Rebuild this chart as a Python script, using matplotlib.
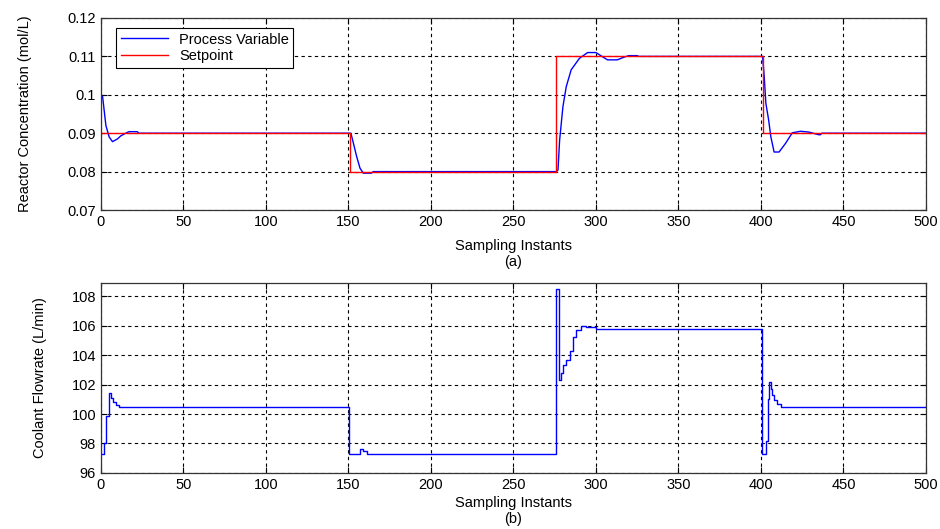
# -*- coding: utf-8 -*-
"""
Reactor concentration and coolant flowrate response to setpoint changes.
"""
# =============================     Import modules     =====================
import matplotlib
matplotlib.use('Agg')
import matplotlib.pyplot as plt

# =============================        Data         ========================
# -- (a) Reactor concentration, process variable:
pv_t = [0, 1, 3, 5, 7, 10, 12, 15, 17, 22, 23,
        150, 151.5, 153, 155, 157, 159, 164, 165,
        276, 277, 278, 280, 282, 285, 290, 295, 300, 307, 313, 317, 320, 325, 326,
        400, 401, 402, 403, 404.7, 406, 408, 411, 415, 419, 424, 429, 435, 436, 437,
        500]
pv_c = [0.100, 0.0995, 0.092, 0.089, 0.0878, 0.0885, 0.0893, 0.0900, 0.0904, 0.0904, 0.090,
        0.090, 0.090, 0.0874, 0.0839, 0.0809, 0.0796, 0.0796, 0.080,
        0.080, 0.0804, 0.0882, 0.0969, 0.1021, 0.1065, 0.1095, 0.1110, 0.1110, 0.1091,
        0.1091, 0.1098, 0.1102, 0.1102, 0.110,
        0.110, 0.110, 0.1048, 0.0978, 0.0934, 0.0891, 0.0851, 0.0851, 0.0874, 0.0901,
        0.0905, 0.0903, 0.0896, 0.0896, 0.090,
        0.090]

# -- (a) Setpoint:
sp_t = [0, 151, 151, 276, 276, 401, 401, 500]
sp_c = [0.09, 0.09, 0.08, 0.08, 0.11, 0.11, 0.09, 0.09]

# -- (b) Coolant flowrate (sampled, held between samples):
q_t = [0, 2, 3, 5, 6, 7, 9, 11,
       150.5, 157, 159, 161,
       276, 277.5, 279, 280, 282, 284, 286, 288, 291, 294, 300, 303,
       400.5, 403, 404, 405, 406, 407, 408, 410, 412, 500]
q_v = [97.3, 98.0, 99.9, 101.4, 101.1, 100.85, 100.6, 100.5,
       97.3, 97.65, 97.5, 97.3,
       108.5, 102.3, 102.8, 103.3, 103.7, 104.3, 105.2, 105.7, 106.0, 105.9, 105.75, 105.8,
       97.3, 98.2, 101.0, 102.2, 101.7, 101.3, 100.95, 100.7, 100.5, 100.5]

x_ticks = list(range(0, 501, 50))
c_ticks = [0.07, 0.08, 0.09, 0.1, 0.11, 0.12]
c_labels = ['0.07', '0.08', '0.09', '0.1', '0.11', '0.12']
q_ticks = [96, 98, 100, 102, 104, 106, 108]

# =============================   Plot settings   ==========================
plt.rcParams['font.family'] = ['Liberation Sans', 'DejaVu Sans']
fs = 10.5
grid_style = dict(color='black', linestyle=(0, (3, 3)), linewidth=0.8)


def style_axis(ax):
    ax.set_xlim(0, 500)
    ax.set_xticks(x_ticks)
    ax.tick_params(direction='in', top=True, right=True, labelsize=fs,
                   length=4, width=0.8)
    ax.grid(True, **grid_style)
    for s in ax.spines.values():
        s.set_linewidth(0.9)
        s.set_color('#333333')


# =============================    Main program   ==========================
fig = plt.figure(figsize=(9.4, 5.29), dpi=100)
ax1 = fig.add_axes([0.1074, 0.603, 0.8776, 0.363])
ax2 = fig.add_axes([0.1074, 0.106, 0.8776, 0.359])

# (a) concentration
ax1.plot(pv_t, pv_c, color='#0000ff', lw=1.0, label='Process Variable')
ax1.plot(sp_t, sp_c, color='#ff0000', lw=1.0, label='Setpoint')
ax1.set_ylim(0.07, 0.12)
ax1.set_yticks(c_ticks)
ax1.set_yticklabels(c_labels)
style_axis(ax1)
ax1.set_ylabel('Reactor Concentration (mol/L)', fontsize=fs)
ax1.yaxis.set_label_coords(-0.083, 0.5)
ax1.set_xlabel('Sampling Instants\n(a)', fontsize=fs, labelpad=7, linespacing=1.25)
leg = ax1.legend(loc='upper left', fontsize=fs, fancybox=False, framealpha=1,
                 edgecolor='black', borderpad=0.3, handlelength=3.2,
                 labelspacing=0.2, bbox_to_anchor=(0.01, 0.985))
leg.get_frame().set_linewidth(0.8)

# (b) coolant flowrate
ax2.plot(q_t, q_v, color='#0000ff', lw=1.0, drawstyle='steps-post')
ax2.set_ylim(96, 108.9)
ax2.set_yticks(q_ticks)
style_axis(ax2)
ax2.set_ylabel('Coolant Flowrate (L/min)', fontsize=fs)
ax2.yaxis.set_label_coords(-0.065, 0.5)
ax2.set_xlabel('Sampling Instants\n(b)', fontsize=fs, labelpad=3, linespacing=1.15)

plt.savefig('out.png', dpi=100)
plt.close(fig)
